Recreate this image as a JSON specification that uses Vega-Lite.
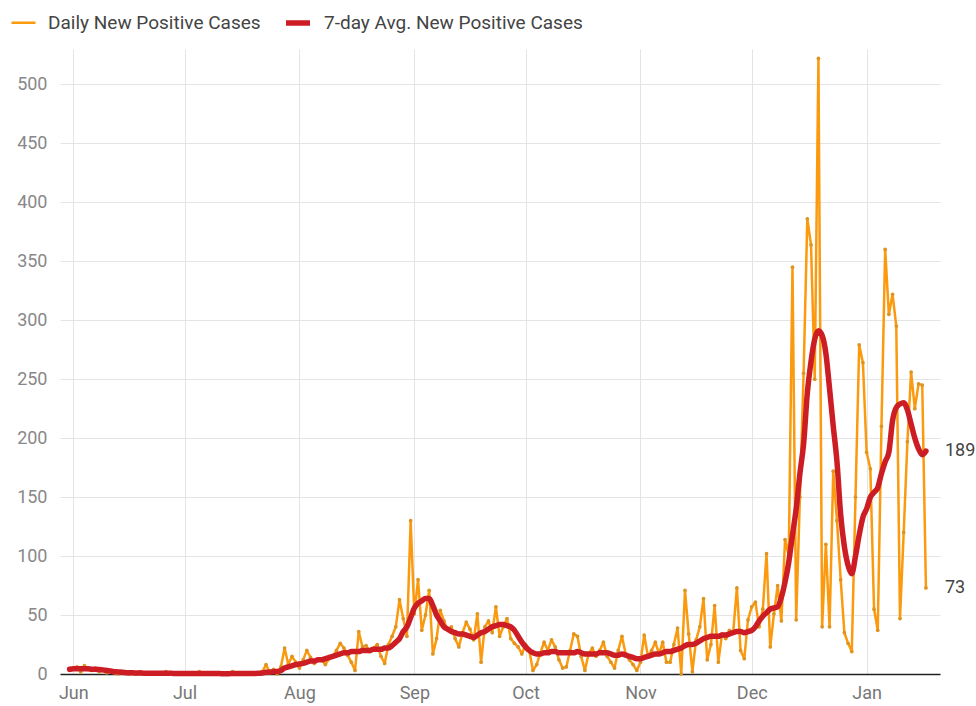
{
  "$schema": "https://vega.github.io/schema/vega-lite/v6.json",
  "autosize": "none",
  "width": 880,
  "height": 625,
  "padding": {"left": 60, "top": 49, "right": 36, "bottom": 32},
  "background": "#ffffff",
  "config": {
    "view": {"stroke": null},
    "font": "Roboto",
    "legend": {
      "orient": "none", "legendX": -50, "legendY": -41, "direction": "horizontal",
      "title": null, "symbolType": "stroke", "symbolSize": 576,
      "labelFont": "Roboto", "labelFontSize": 19, "labelColor": "#444444", "labelLimit": 400,
      "columnPadding": 14, "labelOffset": 11
    }
  },
  "data": {
    "format": {"parse": {"date": "utc:'%Y-%m-%d'"}},
    "values": [
      {"date":"2020-05-31","daily":3,"avg":4},
      {"date":"2020-06-01","daily":5,"avg":4.5},{"date":"2020-06-02","daily":6,"avg":4.5},{"date":"2020-06-03","daily":2,"avg":4.5},{"date":"2020-06-04","daily":7,"avg":4.5},{"date":"2020-06-05","daily":4,"avg":4.5},{"date":"2020-06-06","daily":3,"avg":4},{"date":"2020-06-07","daily":5,"avg":4},{"date":"2020-06-08","daily":2,"avg":3.8},{"date":"2020-06-09","daily":3,"avg":3.5},{"date":"2020-06-10","daily":1,"avg":3},
      {"date":"2020-06-11","daily":2,"avg":2.5},{"date":"2020-06-12","daily":1,"avg":2},{"date":"2020-06-13","daily":0,"avg":1.8},{"date":"2020-06-14","daily":2,"avg":1.5},{"date":"2020-06-15","daily":1,"avg":1.2},{"date":"2020-06-16","daily":0,"avg":1},{"date":"2020-06-17","daily":1,"avg":1},{"date":"2020-06-18","daily":0,"avg":0.8},{"date":"2020-06-19","daily":2,"avg":0.8},{"date":"2020-06-20","daily":0,"avg":0.7},
      {"date":"2020-06-21","daily":1,"avg":0.7},{"date":"2020-06-22","daily":0,"avg":0.6},{"date":"2020-06-23","daily":0,"avg":0.6},{"date":"2020-06-24","daily":1,"avg":0.6},{"date":"2020-06-25","daily":0,"avg":0.6},{"date":"2020-06-26","daily":2,"avg":0.6},{"date":"2020-06-27","daily":0,"avg":0.6},{"date":"2020-06-28","daily":1,"avg":0.5},{"date":"2020-06-29","daily":0,"avg":0.5},{"date":"2020-06-30","daily":1,"avg":0.5},
      {"date":"2020-07-01","daily":0,"avg":0.5},{"date":"2020-07-02","daily":1,"avg":0.5},{"date":"2020-07-03","daily":0,"avg":0.4},{"date":"2020-07-04","daily":0,"avg":0.4},{"date":"2020-07-05","daily":2,"avg":0.5},{"date":"2020-07-06","daily":0,"avg":0.5},{"date":"2020-07-07","daily":1,"avg":0.5},{"date":"2020-07-08","daily":0,"avg":0.5},{"date":"2020-07-09","daily":0,"avg":0.4},{"date":"2020-07-10","daily":1,"avg":0.4},
      {"date":"2020-07-11","daily":0,"avg":0.3},{"date":"2020-07-12","daily":0,"avg":0.3},{"date":"2020-07-13","daily":0,"avg":0.3},{"date":"2020-07-14","daily":2,"avg":0.4},{"date":"2020-07-15","daily":0,"avg":0.4},{"date":"2020-07-16","daily":1,"avg":0.5},{"date":"2020-07-17","daily":0,"avg":0.5},{"date":"2020-07-18","daily":0,"avg":0.5},{"date":"2020-07-19","daily":1,"avg":0.5},{"date":"2020-07-20","daily":0,"avg":0.5},
      {"date":"2020-07-21","daily":0,"avg":0.6},{"date":"2020-07-22","daily":2,"avg":0.8},{"date":"2020-07-23","daily":8,"avg":1.5},{"date":"2020-07-24","daily":1,"avg":1.6},{"date":"2020-07-25","daily":4,"avg":2},{"date":"2020-07-26","daily":0,"avg":2.2},{"date":"2020-07-27","daily":6,"avg":3},{"date":"2020-07-28","daily":22,"avg":5},{"date":"2020-07-29","daily":8,"avg":6},{"date":"2020-07-30","daily":15,"avg":7},{"date":"2020-07-31","daily":10,"avg":8},
      {"date":"2020-08-01","daily":5,"avg":8.5},{"date":"2020-08-02","daily":12,"avg":9},{"date":"2020-08-03","daily":20,"avg":10},{"date":"2020-08-04","daily":14,"avg":11},{"date":"2020-08-05","daily":9,"avg":11},{"date":"2020-08-06","daily":12,"avg":12},{"date":"2020-08-07","daily":12,"avg":12},{"date":"2020-08-08","daily":8,"avg":13},{"date":"2020-08-09","daily":13,"avg":14},{"date":"2020-08-10","daily":15,"avg":15},
      {"date":"2020-08-11","daily":20,"avg":16},{"date":"2020-08-12","daily":26,"avg":17},{"date":"2020-08-13","daily":22,"avg":18},{"date":"2020-08-14","daily":16,"avg":18},{"date":"2020-08-15","daily":10,"avg":19},{"date":"2020-08-16","daily":3,"avg":19},{"date":"2020-08-17","daily":36,"avg":19},{"date":"2020-08-18","daily":23,"avg":20},{"date":"2020-08-19","daily":24,"avg":20},{"date":"2020-08-20","daily":19,"avg":20},
      {"date":"2020-08-21","daily":22,"avg":21},{"date":"2020-08-22","daily":25,"avg":21},{"date":"2020-08-23","daily":15,"avg":21},{"date":"2020-08-24","daily":9,"avg":22},{"date":"2020-08-25","daily":25,"avg":22},{"date":"2020-08-26","daily":32,"avg":24},{"date":"2020-08-27","daily":40,"avg":27},{"date":"2020-08-28","daily":63,"avg":30},{"date":"2020-08-29","daily":47,"avg":36},{"date":"2020-08-30","daily":32,"avg":40},{"date":"2020-08-31","daily":130,"avg":48},
      {"date":"2020-09-01","daily":51,"avg":56},{"date":"2020-09-02","daily":80,"avg":60},{"date":"2020-09-03","daily":37,"avg":62},{"date":"2020-09-04","daily":50,"avg":64},{"date":"2020-09-05","daily":71,"avg":64},{"date":"2020-09-06","daily":17,"avg":58},{"date":"2020-09-07","daily":30,"avg":50},{"date":"2020-09-08","daily":54,"avg":45},{"date":"2020-09-09","daily":45,"avg":40},{"date":"2020-09-10","daily":37,"avg":38},
      {"date":"2020-09-11","daily":40,"avg":36},{"date":"2020-09-12","daily":30,"avg":35},{"date":"2020-09-13","daily":23,"avg":34},{"date":"2020-09-14","daily":35,"avg":34},{"date":"2020-09-15","daily":44,"avg":33},{"date":"2020-09-16","daily":38,"avg":32},{"date":"2020-09-17","daily":29,"avg":31},{"date":"2020-09-18","daily":51,"avg":33},{"date":"2020-09-19","daily":10,"avg":35},{"date":"2020-09-20","daily":40,"avg":36},
      {"date":"2020-09-21","daily":45,"avg":38},{"date":"2020-09-22","daily":35,"avg":40},{"date":"2020-09-23","daily":57,"avg":41},{"date":"2020-09-24","daily":32,"avg":42},{"date":"2020-09-25","daily":40,"avg":42},{"date":"2020-09-26","daily":47,"avg":41},{"date":"2020-09-27","daily":30,"avg":40},{"date":"2020-09-28","daily":26,"avg":37},{"date":"2020-09-29","daily":23,"avg":32},{"date":"2020-09-30","daily":17,"avg":27},
      {"date":"2020-10-01","daily":25,"avg":23},{"date":"2020-10-02","daily":20,"avg":20},{"date":"2020-10-03","daily":3,"avg":18},{"date":"2020-10-04","daily":8,"avg":17},{"date":"2020-10-05","daily":18,"avg":17},{"date":"2020-10-06","daily":27,"avg":18},{"date":"2020-10-07","daily":20,"avg":18},{"date":"2020-10-08","daily":29,"avg":19},{"date":"2020-10-09","daily":23,"avg":19},{"date":"2020-10-10","daily":12,"avg":18},
      {"date":"2020-10-11","daily":5,"avg":18},{"date":"2020-10-12","daily":6,"avg":18},{"date":"2020-10-13","daily":20,"avg":18},{"date":"2020-10-14","daily":34,"avg":18},{"date":"2020-10-15","daily":32,"avg":19},{"date":"2020-10-16","daily":15,"avg":18},{"date":"2020-10-17","daily":3,"avg":17},{"date":"2020-10-18","daily":17,"avg":17},{"date":"2020-10-19","daily":22,"avg":17},{"date":"2020-10-20","daily":15,"avg":17},
      {"date":"2020-10-21","daily":20,"avg":18},{"date":"2020-10-22","daily":27,"avg":18},{"date":"2020-10-23","daily":15,"avg":18},{"date":"2020-10-24","daily":10,"avg":17},{"date":"2020-10-25","daily":5,"avg":16},{"date":"2020-10-26","daily":20,"avg":16},{"date":"2020-10-27","daily":32,"avg":17},{"date":"2020-10-28","daily":17,"avg":16},{"date":"2020-10-29","daily":12,"avg":15},{"date":"2020-10-30","daily":8,"avg":14},{"date":"2020-10-31","daily":3,"avg":13},
      {"date":"2020-11-01","daily":10,"avg":13},{"date":"2020-11-02","daily":33,"avg":14},{"date":"2020-11-03","daily":15,"avg":15},{"date":"2020-11-04","daily":20,"avg":16},{"date":"2020-11-05","daily":27,"avg":17},{"date":"2020-11-06","daily":17,"avg":17},{"date":"2020-11-07","daily":27,"avg":18},{"date":"2020-11-08","daily":10,"avg":19},{"date":"2020-11-09","daily":10,"avg":19},{"date":"2020-11-10","daily":25,"avg":20},
      {"date":"2020-11-11","daily":39,"avg":21},{"date":"2020-11-12","daily":0,"avg":22},{"date":"2020-11-13","daily":71,"avg":24},{"date":"2020-11-14","daily":34,"avg":25},{"date":"2020-11-15","daily":2,"avg":25},{"date":"2020-11-16","daily":29,"avg":26},{"date":"2020-11-17","daily":40,"avg":28},{"date":"2020-11-18","daily":64,"avg":30},{"date":"2020-11-19","daily":12,"avg":31},{"date":"2020-11-20","daily":25,"avg":32},
      {"date":"2020-11-21","daily":58,"avg":32},{"date":"2020-11-22","daily":10,"avg":32},{"date":"2020-11-23","daily":34,"avg":33},{"date":"2020-11-24","daily":30,"avg":33},{"date":"2020-11-25","daily":37,"avg":34},{"date":"2020-11-26","daily":35,"avg":35},{"date":"2020-11-27","daily":73,"avg":36},{"date":"2020-11-28","daily":20,"avg":36},{"date":"2020-11-29","daily":13,"avg":35},{"date":"2020-11-30","daily":46,"avg":36},
      {"date":"2020-12-01","daily":57,"avg":37},{"date":"2020-12-02","daily":61,"avg":40},{"date":"2020-12-03","daily":40,"avg":45},{"date":"2020-12-04","daily":55,"avg":49},{"date":"2020-12-05","daily":102,"avg":52},{"date":"2020-12-06","daily":23,"avg":55},{"date":"2020-12-07","daily":51,"avg":56},{"date":"2020-12-08","daily":75,"avg":57},{"date":"2020-12-09","daily":45,"avg":65},{"date":"2020-12-10","daily":114,"avg":78},
      {"date":"2020-12-11","daily":100,"avg":95},{"date":"2020-12-12","daily":345,"avg":118},{"date":"2020-12-13","daily":46,"avg":140},{"date":"2020-12-14","daily":150,"avg":170},{"date":"2020-12-15","daily":255,"avg":195},{"date":"2020-12-16","daily":386,"avg":238},{"date":"2020-12-17","daily":364,"avg":265},{"date":"2020-12-18","daily":250,"avg":284},{"date":"2020-12-19","daily":522,"avg":291},{"date":"2020-12-20","daily":40,"avg":287},
      {"date":"2020-12-21","daily":110,"avg":272},{"date":"2020-12-22","daily":40,"avg":242},{"date":"2020-12-23","daily":172,"avg":210},{"date":"2020-12-24","daily":130,"avg":180},{"date":"2020-12-25","daily":80,"avg":135},{"date":"2020-12-26","daily":35,"avg":108},{"date":"2020-12-27","daily":26,"avg":92},{"date":"2020-12-28","daily":19,"avg":85},{"date":"2020-12-29","daily":150,"avg":100},{"date":"2020-12-30","daily":279,"avg":118},{"date":"2020-12-31","daily":264,"avg":133},
      {"date":"2021-01-01","daily":188,"avg":140},{"date":"2021-01-02","daily":174,"avg":150},{"date":"2021-01-03","daily":55,"avg":154},{"date":"2021-01-04","daily":37,"avg":158},{"date":"2021-01-05","daily":210,"avg":170},{"date":"2021-01-06","daily":360,"avg":180},{"date":"2021-01-07","daily":305,"avg":188},{"date":"2021-01-08","daily":322,"avg":215},{"date":"2021-01-09","daily":295,"avg":226},{"date":"2021-01-10","daily":47,"avg":229},
      {"date":"2021-01-11","daily":120,"avg":230},{"date":"2021-01-12","daily":197,"avg":224},{"date":"2021-01-13","daily":256,"avg":212},{"date":"2021-01-14","daily":225,"avg":200},{"date":"2021-01-15","daily":246,"avg":191},{"date":"2021-01-16","daily":245,"avg":186},{"date":"2021-01-17","daily":73,"avg":189}
    ]
  },
  "transform": [{"fold": ["daily", "avg"], "as": ["k", "v"]}],
  "encoding": {
    "x": {
      "field": "date", "type": "temporal",
      "scale": {"type": "utc", "domain": [{"year": 2020, "month": 5, "date": 28, "hours": 10, "utc": true}, {"year": 2021, "month": 1, "date": 20, "hours": 19, "utc": true}]},
      "axis": {
        "title": null, "labelExpr": "utcFormat(datum.value, '%b')",
        "values": [
          {"year": 2020, "month": 6, "date": 1, "utc": true}, {"year": 2020, "month": 7, "date": 1, "utc": true},
          {"year": 2020, "month": 8, "date": 1, "utc": true}, {"year": 2020, "month": 9, "date": 1, "utc": true},
          {"year": 2020, "month": 10, "date": 1, "utc": true}, {"year": 2020, "month": 11, "date": 1, "utc": true},
          {"year": 2020, "month": 12, "date": 1, "utc": true}, {"year": 2021, "month": 1, "date": 1, "utc": true}
        ],
        "grid": true, "gridColor": "#e4e4e4", "ticks": false,
        "domainColor": "#222222", "domainWidth": 1.5,
        "labelFont": "Roboto", "labelFontSize": 18, "labelColor": "#777777", "labelPadding": 10, "labelFlush": false
      }
    },
    "y": {
      "field": "v", "type": "quantitative",
      "scale": {"domain": [0, 530], "nice": false},
      "axis": {
        "title": null, "values": [0, 50, 100, 150, 200, 250, 300, 350, 400, 450, 500],
        "grid": true, "gridColor": "#e4e4e4", "domain": false, "ticks": false,
        "labelFont": "Roboto", "labelFontSize": 18, "labelColor": "#888888", "labelPadding": 13
      }
    }
  },
  "layer": [
    {
      "transform": [{"filter": "datum.k == 'daily'"}],
      "mark": {"type": "line", "strokeJoin": "round"},
      "encoding": {
        "color": {"field": "k", "type": "nominal", "scale": {"domain": ["daily", "avg"], "range": ["#fb9a0e", "#cc1d24"]},
          "legend": {"labelExpr": "datum.label == 'daily' ? 'Daily New Positive Cases' : '7-day Avg. New Positive Cases'"}},
        "strokeWidth": {"field": "k", "type": "nominal", "scale": {"domain": ["daily", "avg"], "range": [2.5, 5.5]},
          "legend": {"labelExpr": "datum.label == 'daily' ? 'Daily New Positive Cases' : '7-day Avg. New Positive Cases'"}}
      }
    },
    {
      "transform": [{"filter": "datum.k == 'daily'"}],
      "mark": {"type": "point", "filled": true, "size": 14, "color": "#dd9420", "opacity": 1},
      "encoding": {}
    },
    {
      "transform": [{"filter": "datum.k == 'avg'"}],
      "mark": {"type": "line", "interpolate": "monotone", "strokeJoin": "round", "strokeCap": "round"},
      "encoding": {
        "color": {"field": "k", "type": "nominal"},
        "strokeWidth": {"field": "k", "type": "nominal"}
      }
    },
    {
      "transform": [{"filter": "time(datum.date) == utc(2021, 0, 17)"}],
      "mark": {"type": "text", "align": "left", "baseline": "middle", "dx": 19, "font": "Roboto", "fontSize": 18, "color": "#444444"},
      "encoding": {"text": {"field": "v", "type": "quantitative", "format": "d"}}
    }
  ]
}
